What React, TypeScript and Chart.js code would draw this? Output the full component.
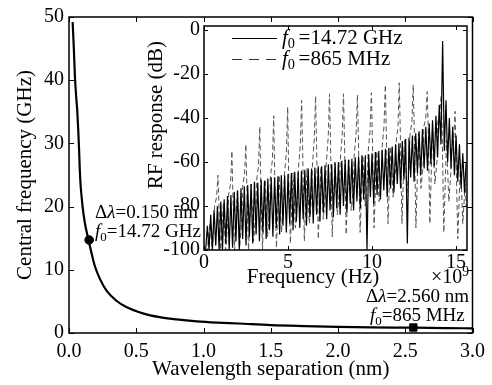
import React, { useEffect, useRef } from "react";
import Chart from "chart.js/auto";

const FONT = '"Liberation Serif", "Times New Roman", serif';

// ---- Main plot: central frequency vs wavelength separation ----
const sepNm = [0.027, 0.036, 0.044, 0.053, 0.061, 0.069, 0.075, 0.08, 0.086, 0.094, 0.101, 0.118, 0.143, 0.168, 0.192, 0.229, 0.279, 0.353, 0.426, 0.549, 0.673, 0.8, 0.95, 1.1, 1.26, 1.5, 1.75, 2.0, 2.25, 2.56, 2.8, 3.0];
const freqGHz = [49.2, 45, 40.6, 37.5, 35.3, 32, 29, 26, 23.5, 21.5, 20.0, 17.4, 14.9, 12.6, 10.6, 8.6, 6.7, 5.1, 4.1, 3.1, 2.5, 2.15, 1.85, 1.65, 1.5, 1.25, 1.1, 0.98, 0.9, 0.84, 0.78, 0.74];
const markSepNm = [0.15, 2.56];
const markFreqGHz = [14.72, 0.865];
const mainXTicks = [0, 0.5, 1.0, 1.5, 2.0, 2.5, 3.0];
const mainYTicks = [0, 10, 20, 30, 40, 50];

// ---- Inset: RF response ----
const solidStepGHz = 0.1;
const solidDb = [
  -100, -100, -89, -100, -84, -100, -82, -98, -80, -100,
  -78, -100, -77, -97, -75.5, -100, -75, -99, -73.5, -96,
  -73, -100, -72, -95, -71, -98, -70.5, -94, -70, -97,
  -69, -93, -69.5, -96, -68, -92, -68.5, -95, -67.5, -91,
  -67, -94, -67, -90, -66.5, -93, -66, -89, -66, -92,
  -65.5, -88, -65, -91, -64.5, -87, -64.5, -90, -64, -86,
  -63.5, -89, -63, -85, -63, -88, -62.5, -84, -62, -87,
  -62, -83, -61.5, -86, -61, -82, -61, -85, -60.5, -81,
  -60, -84, -59.5, -80, -59, -83, -59, -79, -58.5, -82,
  -58, -78, -57.5, -81, -57, -77, -57, -100, -56.5, -76,
  -56, -79, -55.5, -75, -55, -77, -54.5, -73, -54, -76,
  -53.5, -72, -53, -74, -52, -70, -51.5, -72, -50.5, -68,
  -49.5, -97, -49, -67, -48, -69, -47, -65, -46, -66,
  -45, -63, -44, -64, -42.5, -61, -41, -62, -39, -58,
  -34, -52, -5, -55, -32, -60, -40, -63, -44, -66,
  -48, -69, -52, -72, -56, -74, -60,
];
const dashedGHz = [
  0, 0.2, 0.35, 0.5,
  0.63, 0.75, 0.83, 0.89, 0.99, 1.15, 1.29, 1.43,
  1.46, 1.58, 1.66, 1.72, 1.82, 1.98, 2.12, 2.26,
  2.29, 2.41, 2.49, 2.55, 2.65, 2.81, 2.95, 3.09,
  3.12, 3.24, 3.32, 3.38, 3.48, 3.64, 3.78, 3.92,
  3.95, 4.07, 4.15, 4.21, 4.31, 4.47, 4.61, 4.75,
  4.78, 4.9, 4.98, 5.04, 5.14, 5.3, 5.44, 5.58,
  5.61, 5.73, 5.81, 5.87, 5.97, 6.13, 6.27, 6.41,
  6.44, 6.56, 6.64, 6.7, 6.8, 6.96, 7.1, 7.24,
  7.27, 7.39, 7.47, 7.53, 7.63, 7.79, 7.93, 8.07,
  8.1, 8.22, 8.3, 8.36, 8.46, 8.62, 8.76, 8.9,
  8.93, 9.05, 9.13, 9.19, 9.29, 9.45, 9.59, 9.73,
  9.76, 9.88, 9.96, 10.02, 10.12, 10.28, 10.42, 10.56,
  10.59, 10.71, 10.79, 10.85, 10.95, 11.11, 11.25, 11.39,
  11.42, 11.54, 11.62, 11.68, 11.78, 11.94, 12.08, 12.22,
  12.25, 12.37, 12.45, 12.51, 12.61, 12.77, 12.91, 13.05,
  13.08, 13.2, 13.28, 13.34, 13.44, 13.6, 13.74, 13.88,
  13.91, 14.03, 14.11, 14.17, 14.27, 14.43, 14.57, 14.71,
  14.74, 14.86, 14.94, 15.0, 15.1, 15.26, 15.4, 15.54, 15.6,
];
const dashedDb = [
  -100, -100, -88, -100,
  -80, -76, -66, -80, -100, -79, -100, -85,
  -75, -70, -55, -75, -100, -73, -99, -85,
  -71, -66, -52, -72, -100, -70, -96, -82,
  -69, -62, -44, -70, -100, -68, -94, -80,
  -67, -59, -39, -68, -99, -66, -92, -78,
  -66, -56, -35, -67, -97, -65, -90, -77,
  -64, -52, -32, -55, -96, -63, -88, -75,
  -63, -50, -30, -53, -95, -62, -86, -74,
  -61, -49, -29, -52, -94, -60, -84, -72,
  -60, -48, -29, -51, -93, -59, -82, -70,
  -58, -47, -29.5, -50, -92, -57, -80, -68,
  -56, -46, -28.5, -49, -90, -55, -78, -66,
  -54, -44, -25, -47, -88, -53, -76, -64,
  -52, -44, -24, -46, -88, -50, -74, -62,
  -48, -42, -25, -45, -90, -47, -72, -60,
  -44, -40, -28, -44, -88, -45, -70, -58,
  -42, -38, -30, -45, -92, -50, -78, -62,
  -55, -50, -37, -58, -95, -60, -88, -70, -80,
];
const insetXTicks = [0, 5, 10, 15];
const insetYTicks = [-100, -80, -60, -40, -20, 0];

type Part = { t: string; italic?: boolean; sub?: boolean; sup?: boolean };

function drawRich(ctx: CanvasRenderingContext2D, x: number, y: number, parts: Part[], size: number) {
  let cx = x;
  ctx.textAlign = "left";
  ctx.textBaseline = "middle";
  for (const p of parts) {
    const s = p.sub || p.sup ? size * 0.68 : size;
    ctx.font = `${p.italic ? "italic " : ""}${s}px ${FONT}`;
    const dy = p.sub ? size * 0.32 : p.sup ? -size * 0.3 : 0;
    ctx.fillText(p.t, cx, y + dy);
    cx += ctx.measureText(p.t).width;
  }
}

function boxTicks(xTicks: number[], yTicks: number[], len: number) {
  return {
    id: "boxTicks",
    afterDraw(chart: any) {
      const { ctx, chartArea: a, scales } = chart;
      ctx.save();
      ctx.strokeStyle = "#000";
      ctx.lineWidth = 1;
      ctx.beginPath();
      for (const v of xTicks) {
        const p = Math.round(scales.x.getPixelForValue(v)) + 0.5;
        ctx.moveTo(p, a.bottom);
        ctx.lineTo(p, a.bottom - len);
        ctx.moveTo(p, a.top);
        ctx.lineTo(p, a.top + len);
      }
      for (const v of yTicks) {
        const p = Math.round(scales.y.getPixelForValue(v)) + 0.5;
        ctx.moveTo(a.left, p);
        ctx.lineTo(a.left + len, p);
        ctx.moveTo(a.right, p);
        ctx.lineTo(a.right - len, p);
      }
      ctx.stroke();
      ctx.lineWidth = 1.5;
      ctx.strokeRect(a.left, a.top, a.right - a.left, a.bottom - a.top);
      ctx.restore();
    },
  };
}

const tickFont = { family: FONT, size: 20 };
const noGrid = { display: false, drawTicks: false, tickLength: 0 };

export default function App() {
  const mainRef = useRef<HTMLCanvasElement>(null);
  const insetRef = useRef<HTMLCanvasElement>(null);

  useEffect(() => {
    const mainAnnot = {
      id: "mainAnnot",
      afterDraw(chart: any) {
        const ctx: CanvasRenderingContext2D = chart.ctx;
        ctx.save();
        ctx.fillStyle = "#000";
        const s = 19;
        drawRich(ctx, 95, 213, [{ t: "Δ" }, { t: "λ", italic: true }, { t: "=0.150 nm" }], s);
        drawRich(ctx, 95, 232, [{ t: "f", italic: true }, { t: "0", sub: true }, { t: "=14.72 GHz" }], s);
        drawRich(ctx, 366, 297, [{ t: "Δ" }, { t: "λ", italic: true }, { t: "=2.560 nm" }], s);
        drawRich(ctx, 370, 316, [{ t: "f", italic: true }, { t: "0", sub: true }, { t: "=865 MHz" }], s);
        ctx.restore();
      },
    };

    const main = new Chart(mainRef.current!, {
      type: "scatter",
      data: {
        datasets: [
          {
            data: sepNm.map((x, i) => ({ x, y: freqGHz[i] })),
            showLine: true,
            borderColor: "#000",
            borderWidth: 2.2,
            pointRadius: 0,
            cubicInterpolationMode: "monotone",
          },
          {
            data: [{ x: markSepNm[0], y: markFreqGHz[0] }],
            pointStyle: "circle",
            pointRadius: 4.3,
            backgroundColor: "#000",
            borderColor: "#000",
          },
          {
            data: [{ x: markSepNm[1], y: markFreqGHz[1] }],
            pointStyle: "rect",
            pointRadius: 5.2,
            backgroundColor: "#000",
            borderColor: "#000",
          },
        ],
      } as any,
      options: {
        responsive: false,
        animation: false,
        devicePixelRatio: 1,
        events: [],
        layout: { padding: { left: 0, right: 17, top: 17, bottom: 0 } },
        plugins: { legend: { display: false }, tooltip: { enabled: false } },
        scales: {
          x: {
            type: "linear",
            min: 0,
            max: 3,
            grid: noGrid,
            border: { display: false },
            afterBuildTicks: (s: any) => {
              s.ticks = mainXTicks.map((v) => ({ value: v }));
            },
            afterFit: (s: any) => {
              s.height = 52;
            },
            ticks: { font: tickFont, color: "#000", padding: 7, maxRotation: 0, callback: (v: any) => Number(v).toFixed(1) },
            title: { display: true, text: "Wavelength separation (nm)", font: { family: FONT, size: 21 }, color: "#000", padding: { top: 0, bottom: 3 } },
          },
          y: {
            type: "linear",
            min: 0,
            max: 50,
            grid: noGrid,
            border: { display: false },
            afterBuildTicks: (s: any) => {
              s.ticks = mainYTicks.map((v) => ({ value: v }));
            },
            afterFit: (s: any) => {
              s.width = 69;
            },
            ticks: { font: tickFont, color: "#000", padding: 5, callback: (v: any) => String(v) },
            title: { display: true, text: "Central frequency (GHz)", font: { family: FONT, size: 21 }, color: "#000", padding: { top: 13, bottom: 0 } },
          },
        },
      } as any,
      plugins: [boxTicks(mainXTicks, mainYTicks, 5), mainAnnot],
    });

    const insetAnnot = {
      id: "insetAnnot",
      afterDraw(chart: any) {
        const ctx: CanvasRenderingContext2D = chart.ctx;
        const a = chart.chartArea;
        ctx.save();
        ctx.fillStyle = "#000";
        // legend
        ctx.strokeStyle = "#000";
        ctx.lineWidth = 1;
        ctx.beginPath();
        ctx.moveTo(a.left + 28, a.top + 12.5);
        ctx.lineTo(a.left + 73, a.top + 12.5);
        ctx.stroke();
        ctx.strokeStyle = "#333";
        ctx.setLineDash([10, 7]);
        ctx.beginPath();
        ctx.moveTo(a.left + 28, a.top + 33.5);
        ctx.lineTo(a.left + 73, a.top + 33.5);
        ctx.stroke();
        ctx.setLineDash([]);
        drawRich(ctx, a.left + 78, a.top + 12, [{ t: "f", italic: true }, { t: "0 ", sub: true }, { t: "=14.72 GHz" }], 21);
        drawRich(ctx, a.left + 78, a.top + 33, [{ t: "f", italic: true }, { t: "0 ", sub: true }, { t: "=865 MHz" }], 21);
        // axis titles
        ctx.font = `21px ${FONT}`;
        ctx.textAlign = "center";
        ctx.textBaseline = "middle";
        ctx.fillText("Frequency (Hz)", 173, 267);
        ctx.save();
        ctx.translate(16, 105);
        ctx.rotate(-Math.PI / 2);
        ctx.fillText("RF response (dB)", 0, 0);
        ctx.restore();
        drawRich(ctx, 291, 268, [{ t: "×10" }, { t: "9", sup: true }], 20);
        ctx.restore();
      },
    };

    const inset = new Chart(insetRef.current!, {
      type: "scatter",
      data: {
        datasets: [
          {
            data: solidDb.map((y, i) => ({ x: i * solidStepGHz, y })),
            showLine: true,
            borderColor: "#000",
            borderWidth: 1.2,
            pointRadius: 0,
            order: 0,
          },
          {
            data: dashedGHz.map((x, i) => ({ x, y: dashedDb[i] })),
            showLine: true,
            borderColor: "#555",
            borderWidth: 1,
            borderDash: [5, 3],
            pointRadius: 0,
            order: 1,
          },
        ],
      } as any,
      options: {
        responsive: false,
        animation: false,
        devicePixelRatio: 1,
        events: [],
        layout: { padding: { left: 0, right: 13, top: 15, bottom: 0 } },
        plugins: { legend: { display: false }, tooltip: { enabled: false } },
        scales: {
          x: {
            type: "linear",
            min: 0,
            max: 15.65,
            grid: noGrid,
            border: { display: false },
            afterBuildTicks: (s: any) => {
              s.ticks = insetXTicks.map((v) => ({ value: v }));
            },
            afterFit: (s: any) => {
              s.height = 45;
            },
            ticks: { font: tickFont, color: "#000", padding: 1, maxRotation: 0, callback: (v: any) => String(v) },
          },
          y: {
            type: "linear",
            min: -100,
            max: 1.8,
            grid: noGrid,
            border: { display: false },
            afterBuildTicks: (s: any) => {
              s.ticks = insetYTicks.map((v) => ({ value: v }));
            },
            afterFit: (s: any) => {
              s.width = 64;
            },
            ticks: { font: tickFont, color: "#000", padding: 4, callback: (v: any) => String(v) },
          },
        },
      } as any,
      plugins: [
        {
          id: "insetBg",
          beforeDraw(chart: any) {
            const { ctx, chartArea: a } = chart;
            ctx.save();
            ctx.fillStyle = "#fff";
            ctx.fillRect(a.left, a.top, a.right - a.left, a.bottom - a.top);
            ctx.restore();
          },
        },
        boxTicks(insetXTicks, insetYTicks, 4),
        insetAnnot,
      ],
    });

    return () => {
      main.destroy();
      inset.destroy();
    };
  }, []);

  return (
    <div style={{ position: "absolute", left: 0, top: 0, width: 492, height: 385, background: "#fff" }}>
      <canvas ref={mainRef} width={492} height={385} style={{ position: "absolute", left: 0, top: 0 }} />
      <canvas ref={insetRef} width={340} height={285} style={{ position: "absolute", left: 140, top: 10 }} />
    </div>
  );
}
